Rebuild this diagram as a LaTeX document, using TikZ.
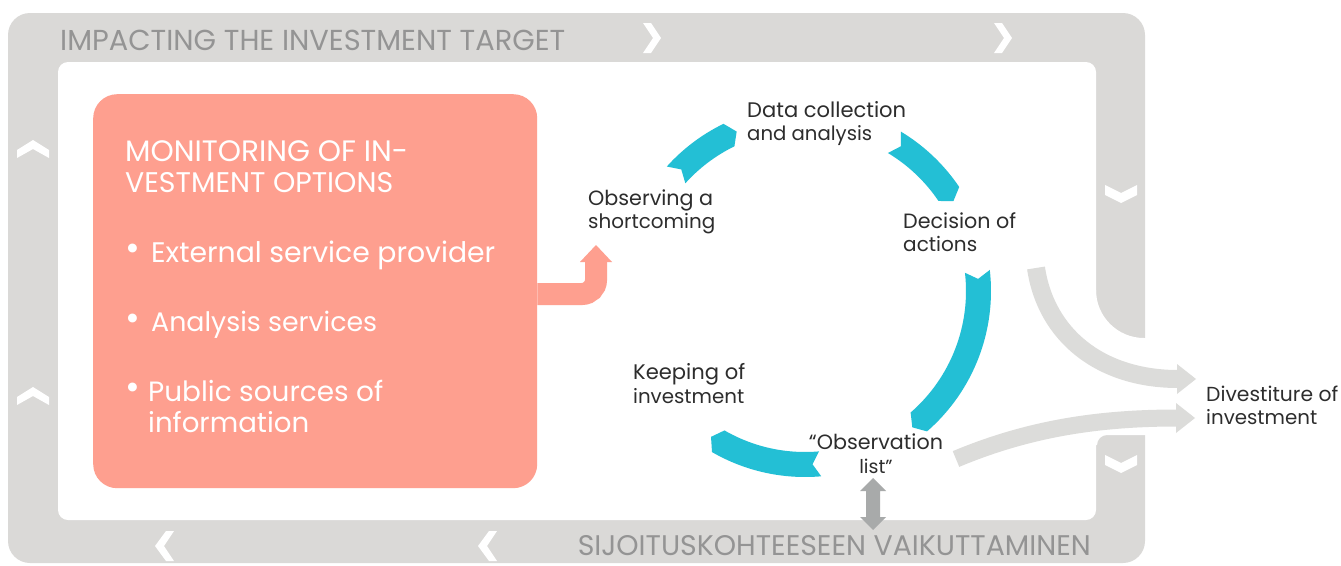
\documentclass[tikz,border=0pt]{standalone}
\usepackage{fontspec}
\usepackage{graphicx}
\setmainfont{Poppins}
\usetikzlibrary{calc}

\definecolor{framegray}{RGB}{218,217,215}
\definecolor{frametext}{RGB}{148,148,148}
\definecolor{salmon}{RGB}{254,159,143}
\definecolor{cyclecyan}{RGB}{35,191,213}
\definecolor{flowgray}{RGB}{220,220,218}
\definecolor{linkgray}{RGB}{168,170,170}
\definecolor{labeltext}{RGB}{45,45,45}

% a line of text stretched to a given width (in pt)
\newcommand{\fitw}[2]{\resizebox{#1pt}{!}{#2}}
% stacked lines with a fixed baseline distance, left or centred
\newcommand{\stackL}[2]{\vtop{\baselineskip=#1pt\lineskiplimit=-1000pt\lineskip=0pt\halign{##\hfil\cr#2\crcr}}}
\newcommand{\stackC}[2]{\vtop{\baselineskip=#1pt\lineskiplimit=-1000pt\lineskip=0pt\halign{\hfil##\hfil\cr#2\crcr}}}
% one curved arrow of the cycle: notched tail at angle #1, pointed head at angle #2
\newcommand{\cycarrow}[2]{%
  \fill[cyclecyan] (#1:186) arc[start angle=#1, end angle=#2, radius=186]
    -- ({#2-2.8}:173.5) -- (#2:161) arc[start angle=#2, end angle=#1, radius=161]
    -- ({#1-2.5}:173.5) -- cycle;}

\begin{document}
\begin{tikzpicture}[x=1pt,y=1pt,
  lbl/.style={anchor=base west, inner sep=0pt, text=labeltext},
  frametitle/.style={inner sep=0pt, text=frametext},
  boxtext/.style={anchor=base west, inner sep=0pt, text=white},
  dot/.style={anchor=base, inner sep=0pt, text=white, font=\fontsize{36}{36}\selectfont},
  chev/.style={fill=white}]
\useasboundingbox (0,0) rectangle (1341,-565);

% ---- grey frame with its white inner field and the opening on the right
\fill[framegray, rounded corners=22pt] (8,-13) rectangle (1145,-563);
\fill[white, rounded corners=10pt] (58,-62) rectangle (1096,-520);
\fill[white] (1090,-290) -- (1096,-290) arc[start angle=180,end angle=270,radius=48]
  -- (1150,-338) -- (1150,-435) -- (1107,-435) arc[start angle=90,end angle=180,radius=10]
  -- (1090,-445) -- cycle;

\node[frametitle, anchor=base west] (impact) at (60,-50) {\fitw{505}{IMPACTING THE INVESTMENT TARGET}};
\node[frametitle, anchor=base east] (vaikutus) at (1091,-555) {\fitw{513}{SIJOITUSKOHTEESEEN VAIKUTTAMINEN}};

% direction chevrons on the frame
\foreach \dx in {0,351}
  \fill[chev, xshift=\dx] (643,-23) -- (651,-23) -- (661,-38) -- (651,-53) -- (643,-53) -- (653,-38) -- cycle;
\foreach \dx in {0,323}
  \fill[chev, xshift=\dx] (174,-531) -- (166,-531) -- (155,-546) -- (166,-561) -- (174,-561) -- (164,-546) -- cycle;
\foreach \dy in {0,-247}
  \fill[chev, yshift=\dy] (17,-150) -- (33,-140) -- (49,-150) -- (49,-158) -- (33,-149) -- (17,-158) -- cycle;
\foreach \dy in {0,-270}
  \fill[chev, yshift=\dy] (1105,-185) -- (1121,-193) -- (1137,-185) -- (1137,-195) -- (1121,-203) -- (1105,-195) -- cycle;

% ---- monitoring box
\node[fill=salmon, rounded corners=24pt, minimum width=444pt, minimum height=394pt,
      anchor=north west, inner sep=0pt] (monitor) at (93,-94) {};
\node[boxtext] (head1) at (125,-161) {\fitw{283}{MONITORING OF IN-}};
\node[boxtext] (head2) at (125,-192) {\fitw{268}{VESTMENT OPTIONS}};
\node[dot] (b1) at (133,-260) {\textbullet};
\node[boxtext] (ext) at (151,-262) {\fitw{344}{External service provider}};
\node[dot] (b2) at (133,-330) {\textbullet};
\node[boxtext] (ana) at (151,-331) {\fitw{226}{Analysis services}};
\node[dot] (b3) at (133,-399) {\textbullet};
\node[boxtext] (pub) at (148,-401) {\stackL{31}{\fitw{235}{Public sources of}\cr\fitw{161}{information}}};

% ---- labels of the cycle
\node[lbl] (data) at (747,-117) {\stackL{23.5}{\fitw{159}{Data collection}\cr\fitw{125}{and analysis}}};
\node[lbl] (observe) at (588,-205) {\stackL{23}{\fitw{125}{Observing a}\cr\fitw{127}{shortcoming}}};
\node[lbl] (decide) at (903,-228) {\stackL{23}{\fitw{113}{Decision of}\cr\fitw{74}{actions}}};
\node[lbl] (keep) at (633,-379) {\stackL{24}{\fitw{112}{Keeping of}\cr\fitw{111}{investment}}};
\node[anchor=base, inner sep=0pt, text=labeltext] (obslist) at (876,-449)
  {\stackC{24}{\fitw{134}{“Observation}\cr{\fontsize{19}{19}\selectfont list”}}};
\node[lbl] (divest) at (1206,-401) {\stackL{23.5}{\fitw{132}{Divestiture of}\cr\fitw{111}{investment}}};

% ---- salmon connector from the box to the cycle
\coordinate (obsin) at (596,-245);
\draw[salmon, line width=22pt, rounded corners=14pt] (monitor.east |- 0,-294) -- (596,-294) -- (596,-261);
\fill[salmon] (580,-262) -- (obsin) -- (612,-262) -- cycle;

% ---- the cycle of four curved arrows
\begin{scope}[shift={(805,-291)}]
  \cycarrow{138}{116}
  \cycarrow{59}{34}
  \cycarrow{6.5}{-49}
  \cycarrow{-85}{-120}
\end{scope}

% ---- grey flows towards divestiture
\coordinate (divA) at (1196,-379);
\coordinate (divB) at (1195,-418);
\draw[flowgray, line width=18pt] (1036,-268) .. controls (1046,-335) and (1100,-379) .. (1178,-379);
\fill[flowgray] (1177,-364) -- (divA) -- (1177,-394) -- cycle;
\draw[flowgray, line width=17pt] (956,-459) .. controls (1030,-428) and (1100,-418) .. (1177,-418);
\fill[flowgray] (1176,-403) -- (divB) -- (1176,-433) -- cycle;

% ---- two-way link between the observation list and the frame
\coordinate (linktop) at (873,-478);
\coordinate (linkbot) at (873,-530);
\fill[linkgray] (linktop) -- (886,-491) -- (880,-491) -- (880,-517) -- (886,-517) -- (linkbot)
  -- (860,-517) -- (866,-517) -- (866,-491) -- (860,-491) -- cycle;
\end{tikzpicture}
\end{document}
